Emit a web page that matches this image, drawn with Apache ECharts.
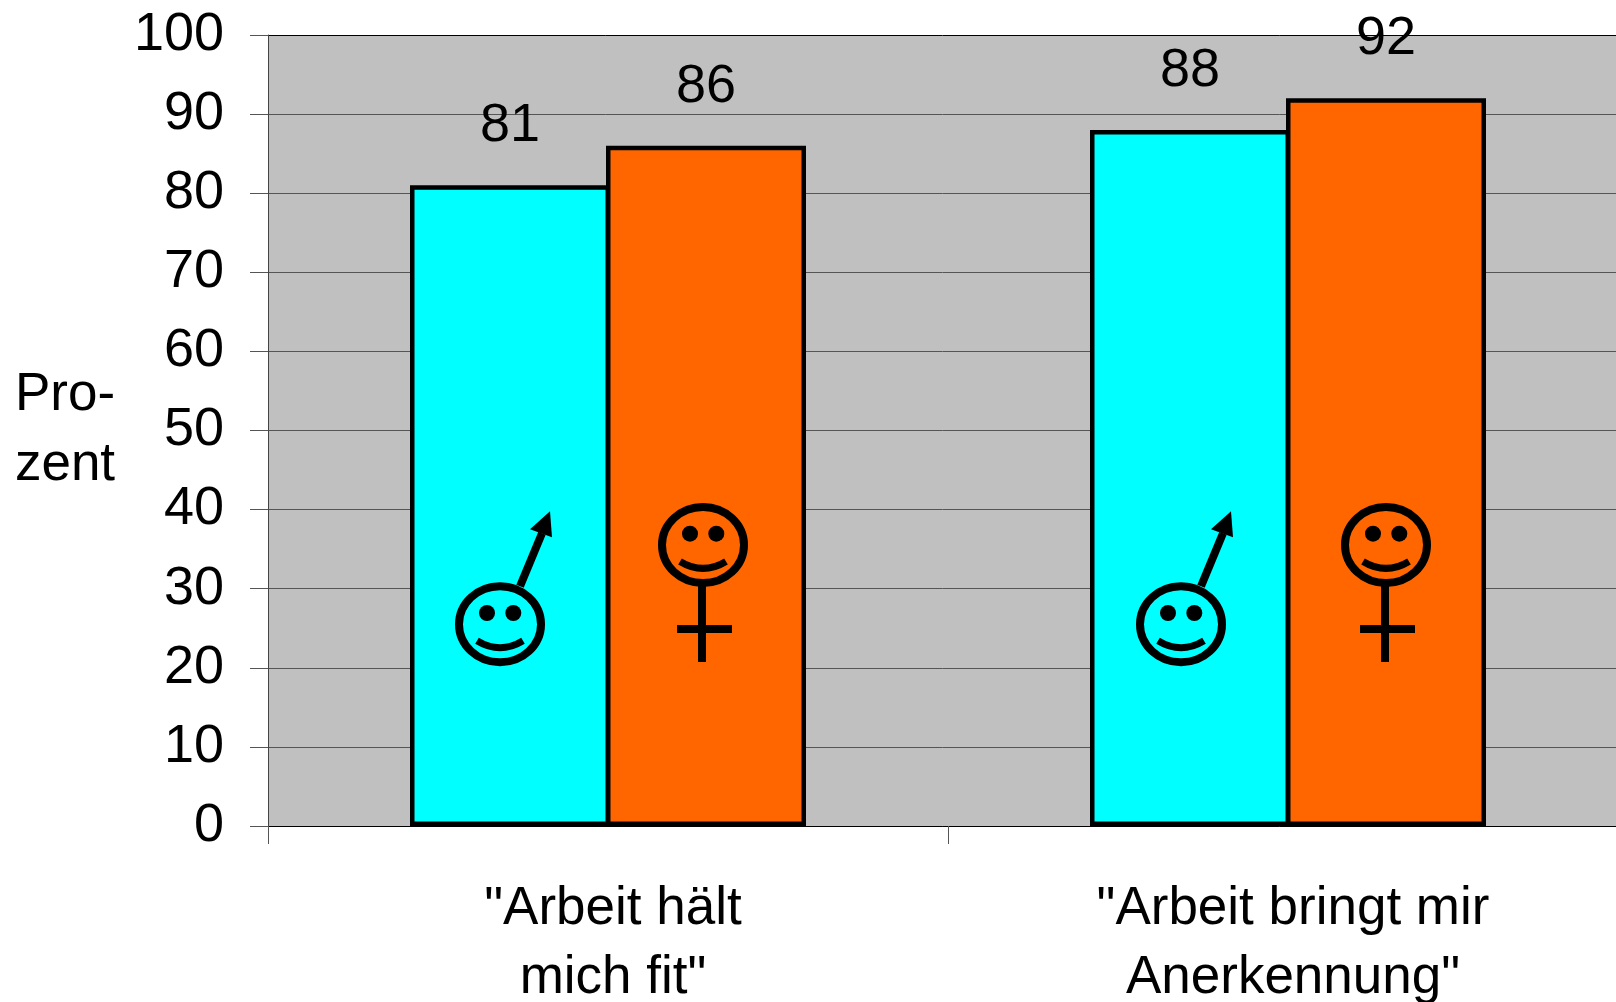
<!DOCTYPE html>
<html>
<head>
    <meta charset="utf-8">
    <title>Prozent</title>
    <script src="https://cdn.jsdelivr.net/npm/echarts/dist/echarts.min.js"></script>
    <style>
        html, body { margin: 0; padding: 0; background: #fff; overflow: hidden; }
    </style>
</head>
<body>
    <div id="main" style="width: 1616px;height:1002px;"></div>
    <script>
        var categories = ['"Arbeit hält\nmich fit"', '"Arbeit bringt mir\nAnerkennung"'];
        var maennlich = [81, 88];
        var weiblich = [86, 92];
        var yTicks = { min: 0, max: 100, interval: 10 };
        var fontName = '"Liberation Sans", Arial, sans-serif';

        // gesicht, shared by both symbols; offsets are px from the head centre
        function face(cx, cy) {
            var ink = { fill: '#000' };
            var line = { fill: null, stroke: '#000', lineWidth: 8 };
            return [
                { type: 'ellipse', shape: { cx: cx, cy: cy, rx: 41, ry: 38 }, style: line },
                { type: 'circle', shape: { cx: cx - 13, cy: cy - 11.3, r: 8 }, style: ink },
                { type: 'circle', shape: { cx: cx + 13.3, cy: cy - 11.3, r: 8 }, style: ink },
                {
                    type: 'bezierCurve',
                    shape: { x1: cx - 23, y1: cy + 16.4, x2: cx + 23, y2: cy + 16.4, cpx1: cx, cpy1: cy + 30.4 },
                    style: { fill: null, stroke: '#000', lineWidth: 7 }
                }
            ];
        }

        function maleIcon(params, api) {
            var base = api.coord([api.value(0), 0]);
            var cx = base[0] + [-108, -107][params.dataIndex];
            var cy = base[1] - 201.7;
            return {
                type: 'group',
                children: face(cx, cy).concat([
                    {
                        type: 'line',
                        shape: { x1: cx + 20, y1: cy - 38, x2: cx + 42, y2: cy - 91 },
                        style: { stroke: '#000', lineWidth: 8 }
                    },
                    {
                        type: 'polygon',
                        shape: { points: [[cx + 50, cy - 113], [cx + 30, cy - 95], [cx + 52, cy - 87]] },
                        style: { fill: '#000' }
                    }
                ])
            };
        }

        function femaleIcon(params, api) {
            var base = api.coord([api.value(0), 0]);
            var cx = base[0] + [95, 98][params.dataIndex];
            var cy = base[1] - 281;
            return {
                type: 'group',
                children: face(cx, cy).concat([
                    { type: 'rect', shape: { x: cx - 5, y: cy + 41, width: 8, height: 76 }, style: { fill: '#000' } },
                    { type: 'rect', shape: { x: cx - 26, y: cy + 80, width: 55, height: 8 }, style: { fill: '#000' } }
                ])
            };
        }

        var barLabel = {
            show: true,
            position: 'top',
            distance: 32,
            color: '#000',
            fontFamily: fontName,
            fontSize: 54
        };

        // grid runs past the right edge of the page like in the slide
        var chartDom = document.getElementById('main');
        var myChart = echarts.init(chartDom);
        var option = {
            animation: false,
            grid: {
                show: true,
                left: 268,
                top: 35,
                width: 1360,
                height: 791,
                backgroundColor: '#C0C0C0',
                borderWidth: 0,
                outerBoundsMode: 'none'
            },
            xAxis: {
                type: 'category',
                data: categories,
                axisLine: { lineStyle: { color: '#000', width: 1 } },
                axisTick: { show: true, length: 18, lineStyle: { color: '#555' } },
                axisLabel: {
                    color: '#000',
                    fontFamily: fontName,
                    fontSize: 53,
                    lineHeight: 69,
                    margin: 49,
                    padding: [0, 0, 0, 10]
                }
            },
            yAxis: {
                type: 'value',
                min: yTicks.min,
                max: yTicks.max,
                interval: yTicks.interval,
                name: 'Pro-\nzent',
                nameLocation: 'middle',
                nameRotate: 0,
                nameGap: 203,
                nameTextStyle: {
                    color: '#000',
                    fontFamily: fontName,
                    fontSize: 53,
                    lineHeight: 70,
                    align: 'center'
                },
                axisLine: { show: true, lineStyle: { color: '#444', width: 1 } },
                axisTick: { show: true, length: 18, lineStyle: { color: '#555' } },
                axisLabel: {
                    color: '#000',
                    fontFamily: fontName,
                    fontSize: 54,
                    margin: 44,
                    padding: [0, 0, 5, 0]
                },
                splitLine: {
                    show: true,
                    lineStyle: {
                        color: ['#555', '#555', '#555', '#555', '#555', '#555', '#555', '#555', '#555', '#555', '#000'],
                        width: 1
                    }
                }
            },
            series: [
                {
                    name: 'Männer',
                    type: 'bar',
                    data: maennlich,
                    barWidth: 200,
                    barGap: '-2%',
                    itemStyle: { color: '#00FFFF', borderColor: '#000', borderWidth: 4.5 },
                    label: barLabel
                },
                {
                    name: 'Frauen',
                    type: 'bar',
                    data: weiblich,
                    barWidth: 200,
                    barGap: '-2%',
                    itemStyle: { color: '#FF6600', borderColor: '#000', borderWidth: 4.5 },
                    label: barLabel
                },
                {
                    type: 'custom',
                    renderItem: maleIcon,
                    data: categories.map(function (c, i) { return [i, 0]; }),
                    encode: { x: 0, y: 1 },
                    silent: true,
                    z: 5
                },
                {
                    type: 'custom',
                    renderItem: femaleIcon,
                    data: categories.map(function (c, i) { return [i, 0]; }),
                    encode: { x: 0, y: 1 },
                    silent: true,
                    z: 5
                }
            ]
        };

        myChart.setOption(option);
    </script>
</body>
</html>
